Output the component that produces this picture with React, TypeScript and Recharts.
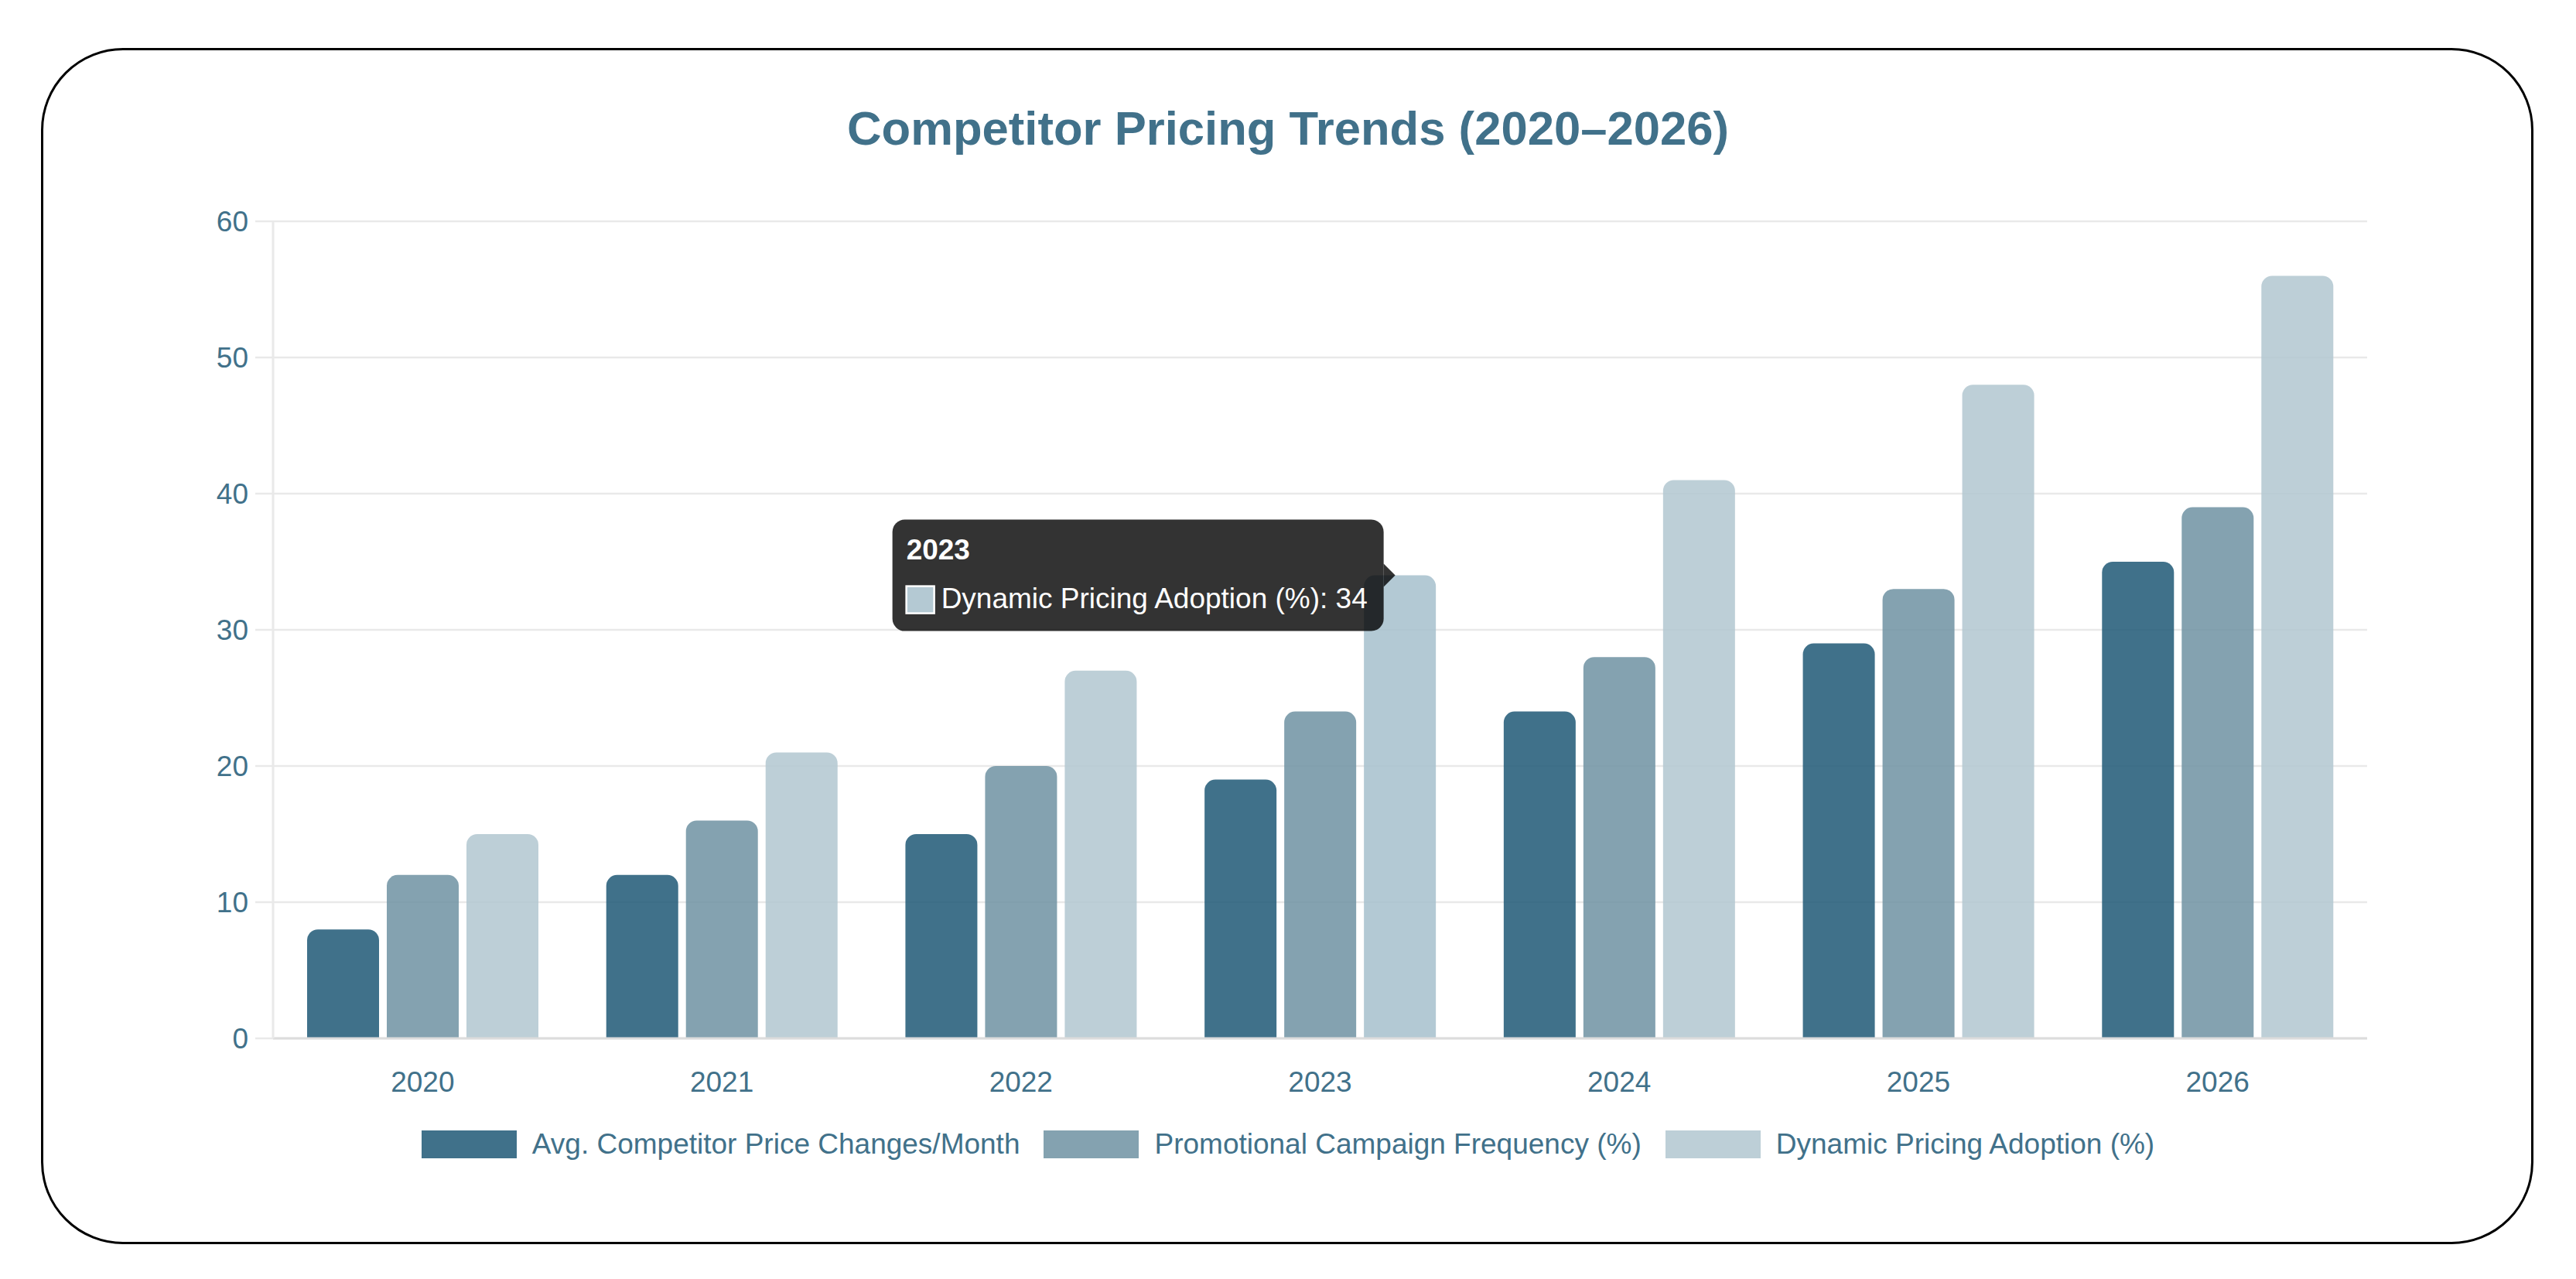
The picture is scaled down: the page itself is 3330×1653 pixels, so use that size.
import { Bar, BarChart, CartesianGrid, Rectangle, XAxis, YAxis } from 'recharts'

const years = ['2020', '2021', '2022', '2023', '2024', '2025', '2026']
const priceChanges = [8, 12, 15, 19, 24, 29, 35]
const promoFrequency = [12, 16, 20, 24, 28, 33, 39]
const dynamicAdoption = [15, 21, 27, 34, 41, 48, 56]
const yTicks = [0, 10, 20, 30, 40, 50, 60]

const TITLE = 'Competitor Pricing Trends (2020–2026)'
const HOVER_YEAR = '2023'

const FONT = '"Liberation Sans", Arial, Helvetica, sans-serif'
const INK = '#41718a'
const GRID = '#e9e9e9'
const BAR_OPACITY = 0.85
const BAR_RADIUS: [number, number, number, number] = [14, 14, 0, 0]
const HOVER_FILL = '#a6bfcc'

const series = [
  { key: 'price', name: 'Avg. Competitor Price Changes/Month', color: '#1f5875' },
  { key: 'promo', name: 'Promotional Campaign Frequency (%)', color: '#6f92a2' },
  { key: 'dynamic', name: 'Dynamic Pricing Adoption (%)', color: '#b1c7d0' },
]

const rows = years.map((year, i) => ({
  year,
  price: priceChanges[i],
  promo: promoFrequency[i],
  dynamic: dynamicAdoption[i],
}))

const tickStyle = { fill: INK, fontSize: 37, fontFamily: FONT }

// Hover bubble in the chart.js style: dark rounded box with a caret pointing at the bar top.
function HoverTip({ px, py, title, label, value, color }: any) {
  const w = 635
  const h = 144
  const right = px - 21
  const left = right - w
  const top = py - 72
  const bg = 'rgba(0,0,0,0.8)'
  return (
    <g>
      <rect x={left} y={top} width={w} height={h} rx={16} ry={16} fill={bg} />
      <polygon points={`${right},${py - 15} ${px - 6},${py} ${right},${py + 15}`} fill={bg} />
      <text x={left + 18} y={top + 51} fill="#fff" fontSize={37} fontWeight="bold" fontFamily={FONT}>
        {title}
      </text>
      <rect x={left + 18} y={top + 86} width={36} height={35} fill={color} stroke="#fff" strokeWidth={2.5} />
      <text x={left + 63} y={top + 114} fill="#fff" fontSize={37} fontFamily={FONT}>
        {`${label}: ${value}`}
      </text>
    </g>
  )
}

function DynamicBar(props: any) {
  const { x, y, width, height, payload } = props
  const hovered = payload.year === HOVER_YEAR
  return (
    <g>
      <Rectangle
        x={x}
        y={y}
        width={width}
        height={height}
        radius={BAR_RADIUS}
        fill={hovered ? HOVER_FILL : series[2].color}
        fillOpacity={BAR_OPACITY}
      />
      {hovered && (
        <HoverTip
          px={x + width / 2}
          py={y}
          title={payload.year}
          label={series[2].name}
          value={payload.dynamic}
          color="#b4c9d3"
        />
      )}
    </g>
  )
}

export default function App() {
  return (
    <div style={{ position: 'absolute', left: 0, top: 0, width: 3330, height: 1653, background: '#fff' }}>
      <div
        style={{
          position: 'absolute',
          left: 53,
          top: 62,
          width: 3222,
          height: 1546,
          border: '3px solid #000',
          borderRadius: 106,
          boxSizing: 'border-box',
        }}
      />
      <div
        style={{
          position: 'absolute',
          left: 0,
          top: 135,
          width: 3330,
          textAlign: 'center',
          fontFamily: FONT,
          fontWeight: 'bold',
          fontSize: 61.6,
          lineHeight: 1,
          color: INK,
        }}
      >
        {TITLE}
      </div>

      <div style={{ position: 'absolute', left: 0, top: 0 }}>
        <BarChart
          width={3330}
          height={1653}
          data={rows}
          margin={{ top: 286, right: 270, bottom: 251, left: 233 }}
          barSize={93}
          barGap={10}
        >
          <CartesianGrid vertical={false} stroke={GRID} strokeWidth={2.5} />
          <XAxis
            dataKey="year"
            height={60}
            tickLine={false}
            tickSize={0}
            tickMargin={43}
            axisLine={{ stroke: '#dcdcdc', strokeWidth: 3 }}
            tick={tickStyle}
          />
          <YAxis
            width={120}
            domain={[0, 60]}
            ticks={yTicks}
            tickSize={23}
            tickMargin={9}
            tickLine={{ stroke: GRID, strokeWidth: 2.5 }}
            axisLine={{ stroke: GRID, strokeWidth: 3 }}
            tick={tickStyle}
          />
          <Bar
            dataKey="price"
            name={series[0].name}
            fill={series[0].color}
            fillOpacity={BAR_OPACITY}
            radius={BAR_RADIUS}
            isAnimationActive={false}
          />
          <Bar
            dataKey="promo"
            name={series[1].name}
            fill={series[1].color}
            fillOpacity={BAR_OPACITY}
            radius={BAR_RADIUS}
            isAnimationActive={false}
          />
          <Bar
            dataKey="dynamic"
            name={series[2].name}
            fill={series[2].color}
            shape={DynamicBar}
            isAnimationActive={false}
          />
        </BarChart>
      </div>

      <div
        style={{
          position: 'absolute',
          left: 0,
          top: 1460,
          width: 3330,
          display: 'flex',
          justifyContent: 'center',
          alignItems: 'center',
          gap: 31,
          fontFamily: FONT,
          fontSize: 37,
          lineHeight: 1,
          color: INK,
        }}
      >
        {series.map((s) => (
          <div key={s.key} style={{ display: 'flex', alignItems: 'center', gap: 20 }}>
            <span style={{ width: 123, height: 36, background: s.color, opacity: BAR_OPACITY, display: 'inline-block' }} />
            <span>{s.name}</span>
          </div>
        ))}
      </div>
    </div>
  )
}
